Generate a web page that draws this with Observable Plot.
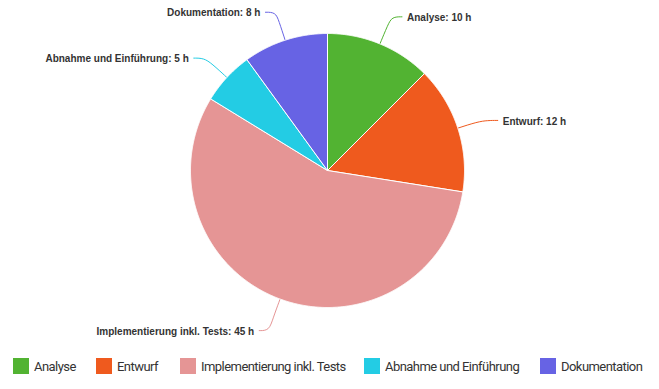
<!DOCTYPE html>
<html><head><meta charset="utf-8">
<script src="https://cdn.jsdelivr.net/npm/d3@7"></script>
<script src="https://cdn.jsdelivr.net/npm/@observablehq/plot@0.6"></script>
<style>
body{margin:0;background:#fff;}
#legend{position:relative;height:20px;margin-top:11px;font-family:Roboto,"Liberation Sans",sans-serif;font-size:13px;letter-spacing:-0.55px;color:#333;white-space:nowrap;}
.item{position:absolute;top:0;display:flex;align-items:center;height:20px;}
.sw{width:16px;height:16px;margin-right:5px;flex:none;}
</style></head>
<body>
<div id="chart"></div>
<div id="legend"></div>
<script>
const categories = ["Analyse", "Entwurf", "Implementierung inkl. Tests", "Abnahme und Einführung", "Dokumentation"];
const hours = [10, 12, 45, 5, 8];
const colors = ["#52b332", "#ef5a1e", "#e59595", "#23cce4", "#6763e4"];

const W = 659, H = 345, R = 137, CX = 327, CY = 170;
const arcs = d3.pie().sort(null)(hours);

// slice polygons in pie units (radius = 1)
const slicePts = [];
arcs.forEach((a, i) => {
  const c = categories[i];
  slicePts.push({c, x: 0, y: 0});
  const n = Math.max(2, Math.ceil((a.endAngle - a.startAngle) / 0.005));
  for (let k = 0; k <= n; k++) {
    const t = a.startAngle + (a.endAngle - a.startAngle) * k / n;
    slicePts.push({c, x: Math.sin(t), y: Math.cos(t)});
  }
  slicePts.push({c, x: 0, y: 0});
});

const labelR = 1.23, elbowR = 1.15, px = 1 / R;
const conn = [], labels = [];
arcs.forEach((a, i) => {
  const c = categories[i];
  const m = (a.startAngle + a.endAngle) / 2;
  const s = Math.sin(m) >= 0 ? 1 : -1;
  const ly = Math.cos(m) * labelR;
  const lx = Math.sin(m) * labelR;
  conn.push({c, x: Math.sin(m), y: Math.cos(m)});
  conn.push({c, x: Math.sin(m) * elbowR, y: Math.cos(m) * elbowR});
  conn.push({c, x: lx, y: ly - 2 * px});
  conn.push({c, x: lx + s * 10 * px, y: ly - 2 * px});
  labels.push({c, x: lx + s * 15 * px, y: ly, side: s, text: `${c}: ${hours[i]} h`});
});

const font = {fill: "#333", fontWeight: "bold", fontSize: 10, fontFamily: "Liberation Sans, Arial, sans-serif", dy: 3};
const chart = Plot.plot({
  width: W, height: H,
  margin: 0,
  x: {domain: [-CX / R, (W - CX) / R], axis: null},
  y: {domain: [-(H - CY) / R, CY / R], axis: null},
  color: {domain: categories, range: colors},
  marks: [
    Plot.line(conn, {x: "x", y: "y", z: "c", stroke: "c", strokeWidth: 1, curve: "basis"}),
    Plot.line(slicePts, {x: "x", y: "y", z: "c", fill: "c", stroke: "white", strokeWidth: 1, strokeLinejoin: "round"}),
    Plot.text(labels.filter(d => d.side > 0), {x: "x", y: "y", text: "text", textAnchor: "start", ...font}),
    Plot.text(labels.filter(d => d.side < 0), {x: "x", y: "y", text: "text", textAnchor: "end", ...font})
  ]
});
document.getElementById("chart").appendChild(chart);

const legendLeft = [13, 96, 180, 364, 540];
const lg = document.getElementById("legend");
categories.forEach((c, i) => {
  const it = document.createElement("div");
  it.className = "item";
  it.style.left = legendLeft[i] + "px";
  it.innerHTML = `<span class="sw" style="background:${colors[i]}"></span><span>${c}</span>`;
  lg.appendChild(it);
});
</script>
</body></html>
